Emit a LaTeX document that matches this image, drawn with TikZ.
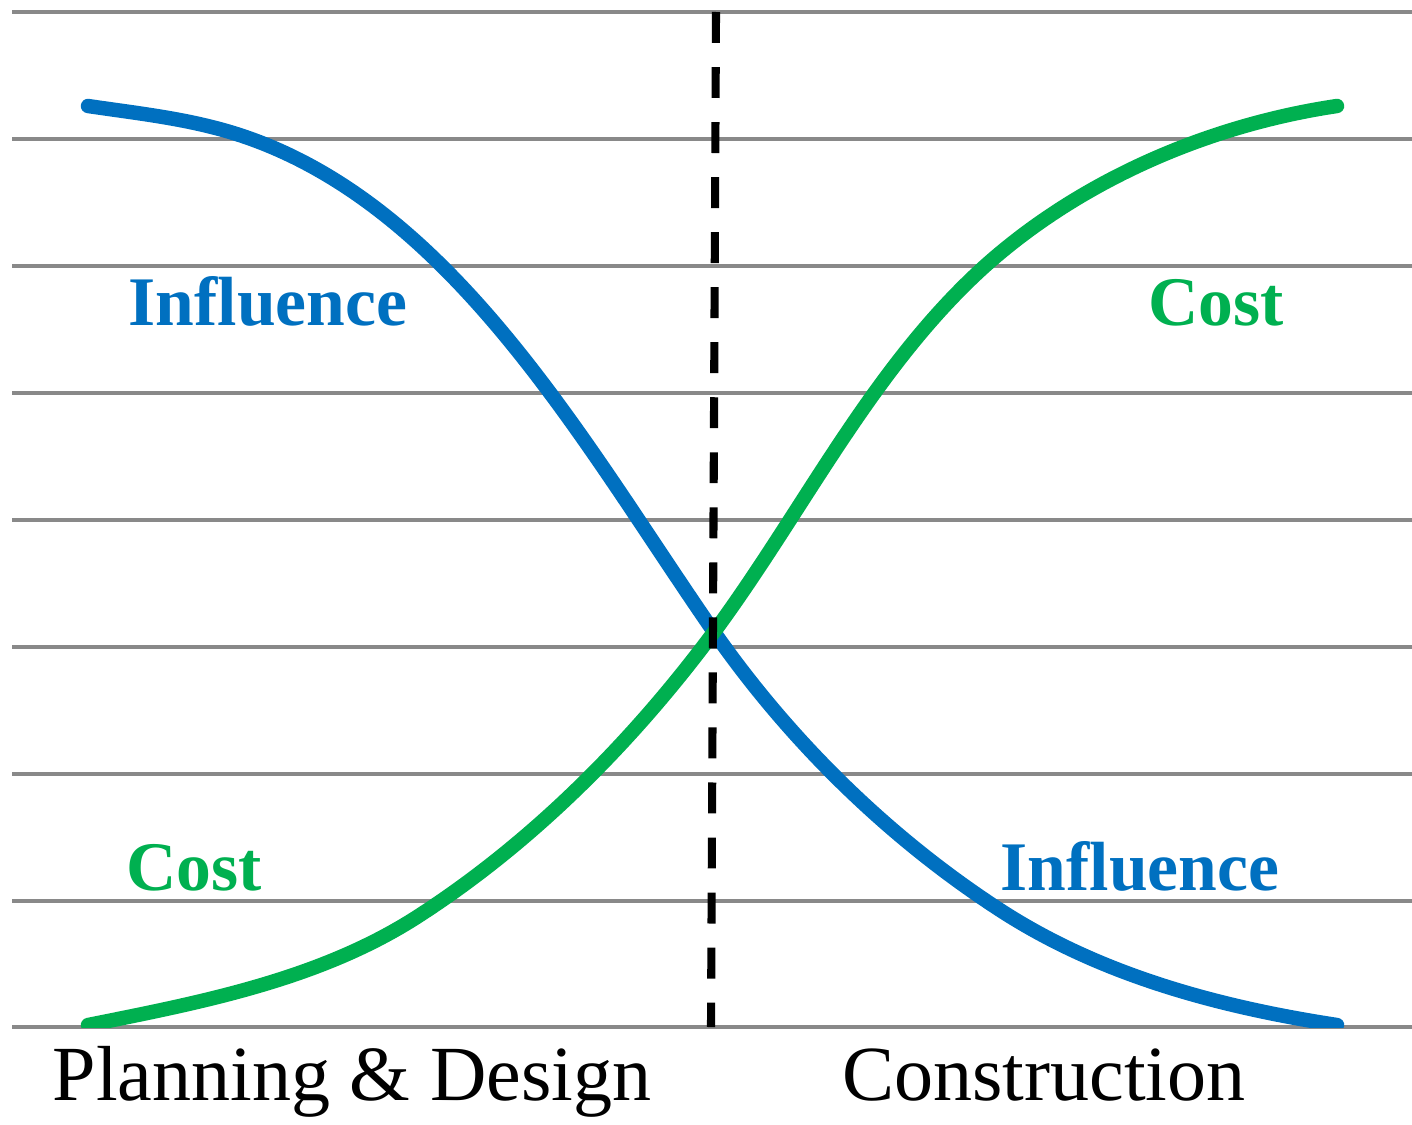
\documentclass[tikz,border=0pt]{standalone}
\usepackage{fontspec}
\setmainfont{Liberation Serif}
\definecolor{cblue}{HTML}{0070C0}
\definecolor{cgreen}{HTML}{00B050}
\definecolor{cgray}{HTML}{898989}
\begin{document}
\begin{tikzpicture}[x=0.01cm,y=-0.01cm,
  gridline/.style={cgray,line width=0.9pt},
  curve/.style={line width=4.1pt,line cap=round,line join=round},
  divider/.style={black,line width=2.3pt,dash pattern=on 8.8pt off 6.85pt},
  phase/.style={font=\fontsize{22.2}{26}\selectfont,anchor=base,inner sep=0pt},
  tag/.style={font=\fontsize{19.8}{24}\selectfont\bfseries,anchor=base,inner sep=0pt}]
\useasboundingbox (0,0) rectangle (1412,1124);
\foreach \y in {12,139,266,393,520,647,774,901,1027}
  \draw[gridline] (12,\y) -- (1412,\y);
\begin{scope}
  \clip (0,0) rectangle (1412,1027);
  \draw[curve,cblue] (88,106)
    .. controls (135,113) and (183,118) .. (230,132)
    .. controls (450,198) and (583,443) .. (714,632)
    .. controls (790,741) and (889,838) .. (1000,910)
    .. controls (1100,975) and (1219,1007) .. (1337,1025);
  \draw[curve,cgreen] (88,1025)
    .. controls (203,1002) and (322,979) .. (420,915)
    .. controls (534,841) and (633,741) .. (714,632)
    .. controls (804,510) and (872,368) .. (985,266)
    .. controls (1081,180) and (1209,125) .. (1337,106);
\end{scope}
\coordinate (dtop) at (716,12);
\coordinate (dbot) at (711,1027);
\draw[divider] (dtop) -- (dbot);
\node[tag,text=cblue]  (infL) at (268,325) {Influence};
\node[tag,text=cgreen] (costR) at (1216,325) {Cost};
\node[tag,text=cgreen] (costL) at (194,890) {Cost};
\node[tag,text=cblue]  (infR) at (1140,890) {Influence};
\node[phase] (plan) at (352,1100) {Planning \& Design};
\node[phase] (cons) at (1044,1100) {Construction};
\end{tikzpicture}
\end{document}
